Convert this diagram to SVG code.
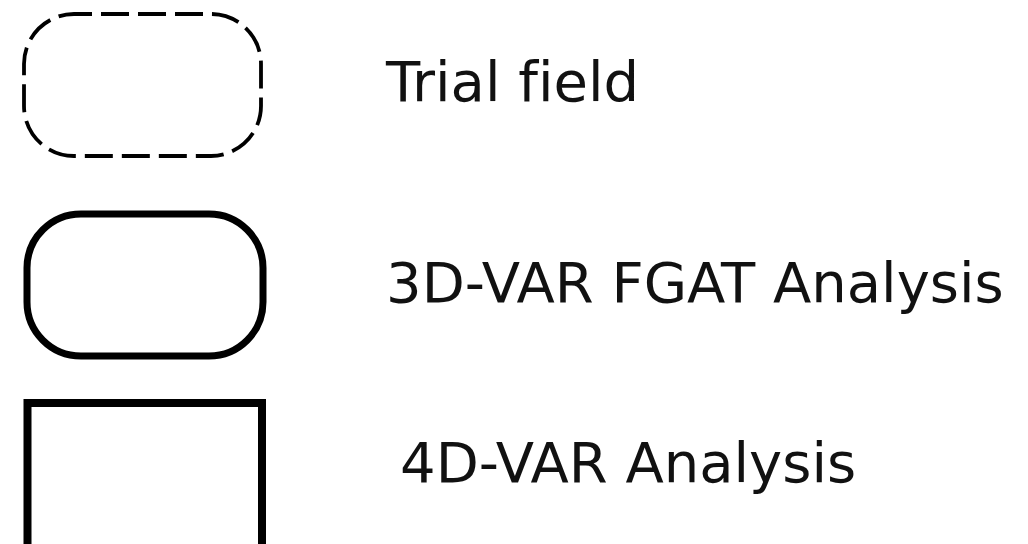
<svg xmlns="http://www.w3.org/2000/svg" width="1028" height="544" viewBox="0 0 1028 544">
<style>
.lbl{font-family:"DejaVu Sans",sans-serif;font-size:56px;fill:#111;font-variant-ligatures:none}
.shape{fill:#fff;stroke:#000}
</style>
<rect width="1028" height="544" fill="#fff"/>
<g id="trial">
<rect class="shape" x="24" y="14" width="237" height="142" rx="50" ry="50" stroke-width="3.8" stroke-dasharray="28 9" stroke-dashoffset="10"/>
<text class="lbl" x="386" y="101">Trial field</text>
</g>
<g id="fgat">
<rect class="shape" x="27" y="214" width="236" height="142" rx="54" ry="54" stroke-width="7"/>
<text class="lbl" x="386" y="302">3D-VAR FGAT Analysis</text>
</g>
<g id="fourdvar">
<rect class="shape" x="27.5" y="403" width="234.5" height="170" stroke-width="8"/>
<text class="lbl" x="400" y="482">4D-VAR Analysis</text>
</g>
<g id="connectors"></g>
</svg>
